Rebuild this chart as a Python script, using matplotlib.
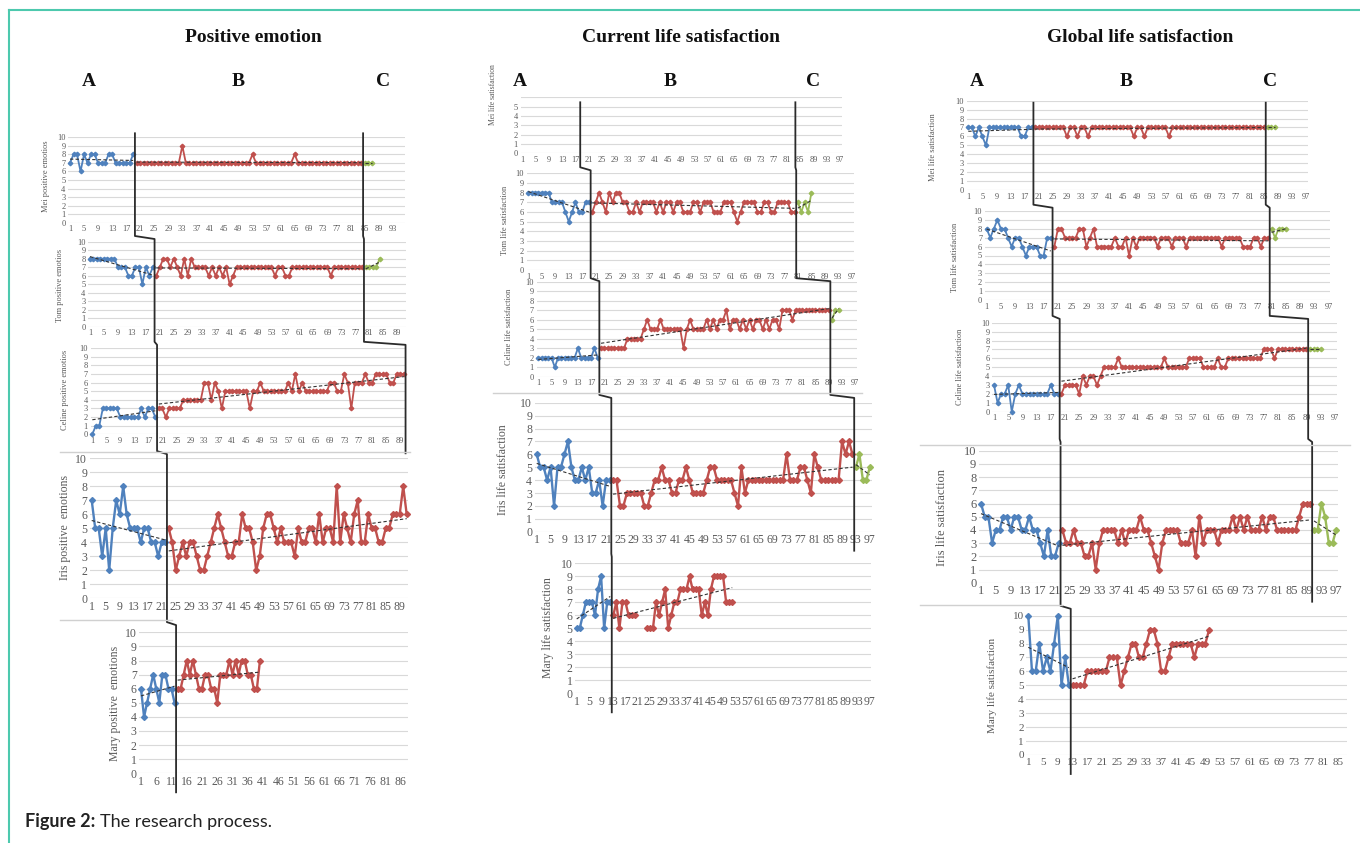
import matplotlib.pyplot as plt
import numpy as np

# ---- session scores (A = baseline, B = intervention, C = follow-up) ----
# Positive emotion
mei_pe_a = [7, 8, 8, 6, 8, 7, 8, 8, 7, 7, 7, 8, 8, 7, 7, 7, 7, 7, 8]
mei_pe_b = [7, 7, 7, 7, 7, 7, 7, 7, 7, 7,
            7, 7, 7, 9, 7, 7, 7, 7, 7, 7,
            7, 7, 7, 7, 7, 7, 7, 7, 7, 7,
            7, 7, 7, 8, 7, 7, 7, 7, 7, 7,
            7, 7, 7, 7, 7, 8, 7, 7, 7, 7,
            7, 7, 7, 7, 7, 7, 7, 7, 7, 7,
            7, 7, 7, 7, 7]
mei_pe_c = [7, 7, 7]

tom_pe_a = [8, 8, 8, 8, 8, 8, 8, 8, 7, 7, 7, 6, 6, 7, 7, 5, 7, 6, 7]
tom_pe_b = [6, 7, 8, 8, 7, 8, 7, 6, 8, 6,
            8, 7, 7, 7, 7, 6, 7, 6, 7, 6,
            7, 5, 6, 7, 7, 7, 7, 7, 7, 7,
            7, 7, 7, 7, 6, 7, 7, 6, 6, 7,
            7, 7, 7, 7, 7, 7, 7, 7, 7, 7,
            6, 7, 7, 7, 7, 7, 7, 7, 7, 7]
tom_pe_c = [7, 7, 7, 7, 8]

celine_pe_a = [0, 1, 1, 3, 3, 3, 3, 3, 2, 2, 2, 2, 2, 2, 3, 2, 3, 3, 2]
celine_pe_b = [3, 3, 2, 3, 3, 3, 3, 4, 4, 4,
               4, 4, 4, 6, 6, 4, 6, 5, 3, 5,
               5, 5, 5, 5, 5, 5, 3, 5, 5, 6,
               5, 5, 5, 5, 5, 5, 5, 6, 5, 7,
               5, 6, 5, 5, 5, 5, 5, 5, 5, 6,
               6, 5, 5, 7, 6, 3, 6, 6, 6, 7,
               6, 6, 7, 7, 7, 7, 6, 6, 7, 7,
               7]
celine_pe_c = []

iris_pe_a = [7, 5, 5, 3, 5, 2, 5, 7, 6, 8, 6, 5, 5, 5, 4, 5, 5, 4, 4, 3, 4, 4]
iris_pe_b = [5, 4, 2, 3, 4, 3, 4, 4, 3, 2,
             2, 3, 4, 5, 6, 5, 4, 3, 3, 4,
             4, 6, 5, 5, 4, 2, 3, 5, 6, 6,
             5, 4, 5, 4, 4, 4, 3, 5, 4, 4,
             5, 5, 4, 6, 4, 5, 5, 4, 8, 4,
             6, 5, 4, 6, 7, 4, 4, 6, 5, 5,
             4, 4, 5, 5, 6, 6, 6, 8, 6]

mary_pe_a = [6, 4, 5, 6, 7, 6, 5, 7, 7, 6, 6, 5]
mary_pe_b = [6, 6, 7, 8, 7, 8, 7, 6, 6, 7,
             7, 6, 6, 5, 7, 7, 7, 8, 7, 8,
             7, 8, 8, 7, 7, 6, 6, 8]

# Current life satisfaction
mei_ls_a = []
mei_ls_b = []
mei_ls_c = []
mei_ls_breaks = [18.5, 83.5]

tom_ls_a = [8, 8, 8, 8, 8, 8, 8, 7, 7, 7, 7, 6, 5, 6, 7, 6, 6, 7, 7]
tom_ls_b = [6, 7, 8, 7, 6, 8, 7, 8, 8, 7,
            7, 6, 6, 7, 6, 7, 7, 7, 7, 6,
            7, 6, 7, 7, 6, 7, 7, 6, 6, 6,
            7, 7, 6, 7, 7, 7, 6, 6, 6, 7,
            7, 7, 6, 5, 6, 7, 7, 7, 7, 6,
            6, 7, 7, 6, 6, 7, 7, 7, 7, 6,
            6]
tom_ls_c = [7, 6, 7, 6, 8]

celine_ls_a = [2, 2, 2, 2, 2, 1, 2, 2, 2, 2, 2, 2, 3, 2, 2, 2, 2, 3, 2]
celine_ls_b = [3, 3, 3, 3, 3, 3, 3, 3, 4, 4,
               4, 4, 4, 5, 6, 5, 5, 5, 6, 5,
               5, 5, 5, 5, 5, 3, 5, 6, 5, 5,
               5, 5, 6, 5, 6, 5, 6, 6, 7, 5,
               6, 6, 5, 6, 5, 6, 5, 6, 6, 5,
               6, 5, 6, 6, 5, 7, 7, 7, 6, 7,
               7, 7, 7, 7, 7, 7, 7, 7, 7, 7]
celine_ls_c = [6, 7, 7]

iris_ls_a = [6, 5, 5, 4, 5, 2, 5, 5, 6, 7, 5, 4, 4, 5, 4, 5, 3, 3, 4, 2, 4, 4]
iris_ls_b = [4, 4, 2, 2, 3, 3, 3, 3, 3, 2,
             2, 3, 4, 4, 5, 4, 4, 3, 3, 4,
             4, 5, 4, 3, 3, 3, 3, 4, 5, 5,
             4, 4, 4, 4, 4, 3, 2, 5, 3, 4,
             4, 4, 4, 4, 4, 4, 4, 4, 4, 4,
             6, 4, 4, 4, 5, 5, 4, 3, 6, 5,
             4, 4, 4, 4, 4, 4, 7, 6, 7, 6]
iris_ls_c = [5, 6, 4, 4, 5]

mary_ls_a = [5, 5, 6, 7, 7, 7, 6, 8, 9, 5, 7, 7]
mary_ls_b = [6, 7, 5, 7, 7, 6, 6, 6, np.nan, np.nan,
             np.nan, 5, 5, 5, 7, 6, 7, 8, 5, 6,
             7, 7, 8, 8, 8, 9, 8, 8, 8, 6,
             7, 6, 8, 9, 9, 9, 9, 7, 7, 7]

# Global life satisfaction
mei_gls_a = [7, 7, 6, 7, 6, 5, 7, 7, 7, 7, 7, 7, 7, 7, 7, 6, 6, 7, 7]
mei_gls_b = [7, 7, 7, 7, 7, 7, 7, 7, 7, 6,
             7, 7, 6, 7, 7, 6, 7, 7, 7, 7,
             7, 7, 7, 7, 7, 7, 7, 7, 6, 7,
             7, 6, 7, 7, 7, 7, 7, 7, 6, 7,
             7, 7, 7, 7, 7, 7, 7, 7, 7, 7,
             7, 7, 7, 7, 7, 7, 7, 7, 7, 7,
             7, 7, 7, 7, 7, 7]
mei_gls_c = [7, 7, 7]

tom_gls_a = [8, 7, 8, 9, 8, 8, 7, 6, 7, 7, 6, 5, 6, 6, 6, 5, 5, 7, 7]
tom_gls_b = [6, 8, 8, 7, 7, 7, 7, 8, 8, 6,
             7, 8, 6, 6, 6, 6, 6, 7, 6, 6,
             7, 5, 7, 6, 7, 7, 7, 7, 7, 6,
             7, 7, 7, 6, 7, 7, 7, 6, 7, 7,
             7, 7, 7, 7, 7, 7, 7, 6, 7, 7,
             7, 7, 7, 6, 6, 6, 7, 7, 6, 7,
             7]
tom_gls_c = [8, 7, 8, 8, 8]

celine_gls_a = [3, 1, 2, 2, 3, 0, 2, 3, 2, 2, 2, 2, 2, 2, 2, 2, 3, 2, 2]
celine_gls_b = [2, 3, 3, 3, 3, 2, 4, 3, 4, 4,
                3, 4, 5, 5, 5, 5, 6, 5, 5, 5,
                5, 5, 5, 5, 5, 5, 5, 5, 5, 6,
                5, 5, 5, 5, 5, 5, 6, 6, 6, 6,
                5, 5, 5, 5, 6, 5, 5, 6, 6, 6,
                6, 6, 6, 6, 6, 6, 6, 7, 7, 7,
                6, 7, 7, 7, 7, 7, 7, 7, 7, 7]
celine_gls_c = [7, 7, 7, 7]

iris_gls_a = [6, 5, 5, 3, 4, 4, 5, 5, 4, 5, 5, 4, 4, 5, 4, 4, 3, 2, 4, 2, 2, 3]
iris_gls_b = [4, 3, 3, 4, 3, 3, 2, 2, 3, 1,
              3, 4, 4, 4, 4, 3, 4, 3, 4, 4,
              4, 5, 4, 4, 3, 2, 1, 3, 4, 4,
              4, 4, 3, 3, 3, 4, 2, 5, 3, 4,
              4, 4, 3, 4, 4, 4, 5, 4, 5, 4,
              5, 4, 4, 4, 5, 4, 5, 5, 4, 4,
              4, 4, 4, 4, 5, 6, 6, 6]
iris_gls_c = [4, 4, 6, 5, 3, 3, 4]

mary_gls_a = [10, 6, 6, 8, 6, 7, 6, 8, 10, 5, 7, 5]
mary_gls_b = [5, 5, 5, 5, 6, 6, 6, 6, 6, 6,
              7, 7, 7, 5, 6, 7, 8, 8, 7, 7,
              8, 9, 9, 8, 6, 6, 7, 8, 8, 8,
              8, 8, 8, 7, 8, 8, 8, 9]

titles = ['Positive emotion', 'Current life satisfaction', 'Global life satisfaction']
phase_names = ['A', 'B', 'C']

BLUE, RED, GREEN = '#4F81BD', '#C0504D', '#9BBB59'
GRID, TXT = '#D9D9D9', '#595959'

plt.rcParams['font.family'] = ['Liberation Serif', 'DejaVu Serif']

W, H = 1360, 843
fig = plt.figure(figsize=(W / 100, H / 100), dpi=100)
ov = fig.add_axes([0, 0, 1, 1], zorder=10)
ov.set_xlim(0, W)
ov.set_ylim(H, 0)
ov.axis('off')
ov.patch.set_alpha(0)


def draw_panel(lay, phases, ylab, lab_xy, lab_fs):
    # lay: first-category pixel x, pixels per session, n categories, top px, bottom px, ymax, tick step, font size
    x1, dx, n, ytop, ybot, ymax, step, fs = lay
    left = x1 - dx / 2
    ax = fig.add_axes([left / W, 1 - ybot / H, n * dx / W, (ybot - ytop) / H])
    ax.set_xlim(0.5, n + 0.5)
    ax.set_ylim(0, ymax)
    ax.set_yticks(range(0, ymax + 1))
    ax.set_xticks(range(1, n + 1, step))
    ax.yaxis.grid(True, color=GRID, lw=0.8)
    ax.set_axisbelow(True)
    for s in ax.spines.values():
        s.set_visible(False)
    ax.tick_params(length=0, labelsize=fs, colors=TXT, pad=2)
    big = fs > 7
    start = 1
    for vals, col in zip(phases, (BLUE, RED, GREEN)):
        if vals is None or len(vals) == 0:
            continue
        x = np.arange(start, start + len(vals))
        y = np.array(vals, dtype=float)
        ax.plot(x, y, color=col, lw=1.7 if big else 1.3, marker='D',
                ms=3.0 if big else 2.3, clip_on=False)
        m = ~np.isnan(y)
        if m.sum() >= 3:
            k, b0 = np.polyfit(x[m], y[m], 1)
            xe = x[m][[0, -1]]
            ax.plot(xe, k * xe + b0, ls=(0, (3, 2)), color='#333333', lw=0.8)
        start += len(vals)
    ov.text(lab_xy[0], lab_xy[1], ylab, rotation=90, ha='center', va='center',
            fontsize=lab_fs, color=TXT)
    return ax


def breaks(a, b, c):
    out = [len(a) + 0.5]
    if c is not None:
        out.append(len(a) + len(b) + 0.5)
    return out


# ---- column 1: positive emotion ----
c1 = [
    draw_panel((70, 3.51, 96, 137.3, 222.7, 10, 4, 6),
               [mei_pe_a, mei_pe_b, mei_pe_c], 'Mei positive emotios', (46, 176), 6),
    draw_panel((90, 3.49, 91, 241.7, 326.7, 10, 4, 6),
               [tom_pe_a, tom_pe_b, tom_pe_c], 'Tom positive emotios', (60, 285), 6),
    draw_panel((92.3, 3.5, 90, 348.3, 434.3, 10, 4, 6),
               [celine_pe_a, celine_pe_b, celine_pe_c], 'Celine positive emotios', (65, 390), 6),
    draw_panel((91.7, 3.5, 91, 458.3, 598.3, 10, 4, 8.5),
               [iris_pe_a, iris_pe_b, None], 'Iris positive  emotions', (65, 527), 8.5),
    draw_panel((141, 3.05, 88, 632.3, 773.3, 10, 5, 8.5),
               [mary_pe_a, mary_pe_b, None], 'Mary positive  emotions', (115, 703), 8.5),
]
c1_brk = [breaks(mei_pe_a, mei_pe_b, mei_pe_c), breaks(tom_pe_a, tom_pe_b, tom_pe_c),
          breaks(celine_pe_a, celine_pe_b, celine_pe_c), breaks(iris_pe_a, iris_pe_b, None),
          breaks(mary_pe_a, mary_pe_b, None)]

# ---- column 2: current life satisfaction ----
c2 = [
    draw_panel((522.3, 3.31, 97, 97.3, 153.3, 6, 4, 6),
               [mei_ls_a, mei_ls_b, mei_ls_c], 'Mei life satisfaction', (493, 95), 5.5),
    draw_panel((528.3, 3.37, 97, 173.3, 270, 10, 4, 6),
               [tom_ls_a, tom_ls_b, tom_ls_c], 'Tom life satisfaction', (505, 220), 6),
    draw_panel((538.3, 3.30, 97, 281.7, 376.7, 10, 4, 6),
               [celine_ls_a, celine_ls_b, celine_ls_c], 'Celine life satisfaction', (509, 327), 6),
    draw_panel((536.7, 3.47, 97, 402.7, 531.7, 10, 4, 8.5),
               [iris_ls_a, iris_ls_b, iris_ls_c], 'Iris life satisfaction', (503, 470), 8.5),
    draw_panel((576.7, 3.05, 97, 563.3, 693.3, 10, 4, 8.5),
               [mary_ls_a, mary_ls_b, None], 'Mary life satisfaction', (548, 628), 8.5),
]
c2[0].set_yticklabels(['0', '1', '2', '3', '4', '5', ''])
c2_brk = [mei_ls_breaks, breaks(tom_ls_a, tom_ls_b, tom_ls_c),
          breaks(celine_ls_a, celine_ls_b, celine_ls_c), breaks(iris_ls_a, iris_ls_b, iris_ls_c),
          breaks(mary_ls_a, mary_ls_b, None)]

# ---- column 3: global life satisfaction ----
c3 = [
    draw_panel((968.3, 3.52, 97, 100.7, 190, 10, 4, 6),
               [mei_gls_a, mei_gls_b, mei_gls_c], 'Mei life satisfaction', (933, 147), 6),
    draw_panel((986.7, 3.56, 97, 211, 300, 10, 4, 6),
               [tom_gls_a, tom_gls_b, tom_gls_c], 'Tom life satisfaction', (955, 257), 6),
    draw_panel((994, 3.55, 97, 322.7, 411.7, 10, 4, 6),
               [celine_gls_a, celine_gls_b, celine_gls_c], 'Celine life satisfaction', (960, 367), 6),
    draw_panel((981, 3.70, 97, 450.7, 582.7, 10, 4, 9),
               [iris_gls_a, iris_gls_b, iris_gls_c], 'Iris life satisfaction', (942, 517), 9),
    draw_panel((1028.3, 3.69, 87, 615.7, 755, 10, 4, 8),
               [mary_gls_a, mary_gls_b, None], 'Mary life satisfaction', (992, 685), 8),
]
c3_brk = [breaks(mei_gls_a, mei_gls_b, mei_gls_c), breaks(tom_gls_a, tom_gls_b, tom_gls_c),
          breaks(celine_gls_a, celine_gls_b, celine_gls_c), breaks(iris_gls_a, iris_gls_b, iris_gls_c),
          breaks(mary_gls_a, mary_gls_b, None)]


def to_ov(ax, xval):
    d = ax.transData.transform((xval, 0))
    return ov.transData.inverted().transform(d)[0]


def px_box(ax):
    bb = ax.get_position()
    return (1 - bb.y1) * H, (1 - bb.y0) * H


def phase_line(axes, brks, which, top_off):
    sel = [(ax, b[which]) for ax, b in zip(axes, brks) if len(b) > which]
    pts = []
    for i, (ax, bv) in enumerate(sel):
        x = to_ov(ax, bv)
        top, bot = px_box(ax)
        if i == 0:
            pts.append((x, top + top_off))
        if i < len(sel) - 1:
            ntop, _ = px_box(sel[i + 1][0])
            yc = bot + 0.7 * (ntop - bot)
            nx = to_ov(sel[i + 1][0], sel[i + 1][1])
            pts += [(x, yc), (nx, yc + 3)]
        else:
            pts.append((x, bot + 19))
    xs, ys = zip(*pts)
    ov.plot(xs, ys, color='#2b2b2b', lw=1.3)


for axes, brks, off in [(c1, c1_brk, -4), (c2, c2_brk, 5), (c3, c3_brk, 2)]:
    phase_line(axes, brks, 0, off)
    phase_line(axes, brks, 1, off)

# light chart-area separators
for xa, xb, yy in [(60, 410, 452), (60, 172, 620), (493, 862, 393), (920, 1350, 445), (920, 1062, 605)]:
    ov.plot([xa, xb], [yy, yy], color='#D0D0D0', lw=1)

# titles and phase letters
for t, xc in zip(titles, [253, 681, 1140]):
    ov.text(xc, 37, t, ha='center', va='center', fontsize=14, fontweight='bold', color='#111111')
for xs3 in [(89, 238, 383), (520, 670, 813), (977, 1126, 1270)]:
    for lbl, xc in zip(phase_names, xs3):
        ov.text(xc, 82, lbl, ha='center', va='center', fontsize=14, fontweight='bold', color='#111111')

# page border
ov.plot([9, W], [10, 10], color='#4DC9AE', lw=1.5)
ov.plot([9, 9], [10, H], color='#4DC9AE', lw=1.5)

# caption
cap = ov.text(25, 822, 'Figure 2:', ha='left', va='center', fontsize=13, fontweight='bold',
              family=['Lato', 'DejaVu Sans'], color='#222222')
r = fig.canvas.get_renderer()
bb = cap.get_window_extent(renderer=r)
x_end = ov.transData.inverted().transform((bb.x1, bb.y0))[0]
ov.text(x_end + 5, 822, 'The research process.', ha='left', va='center', fontsize=13,
        family=['Lato', 'DejaVu Sans'], color='#222222')

fig.savefig('out.png', dpi=100)
